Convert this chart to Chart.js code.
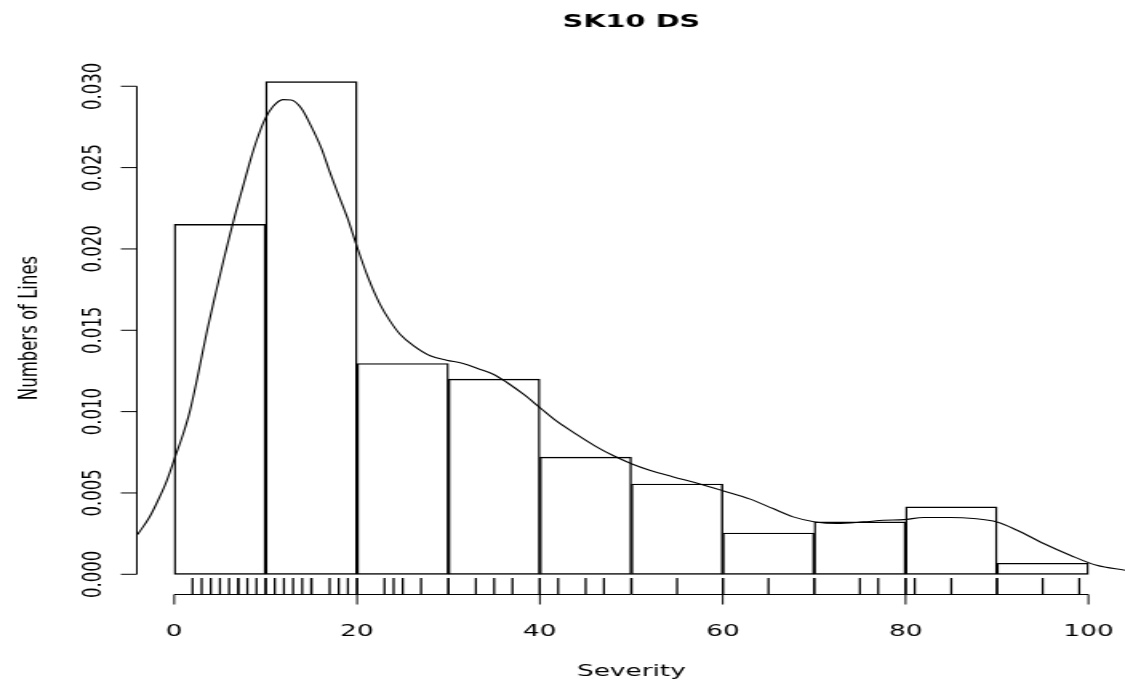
<!DOCTYPE html>
<html>
<head>
<meta charset="utf-8">
<title>SK10 DS</title>
<script src="https://cdn.jsdelivr.net/npm/chart.js@4.4.1/dist/chart.umd.min.js"></script>
<style>
    html, body { margin: 0; padding: 0; background: #fff; overflow: hidden; }
    #wrap { width: 1125px; height: 684px; position: relative; overflow: hidden; }
    /* the original plot is a stretched R device, so the canvas is drawn narrow and widened */
    #chart { position: absolute; left: 0; top: 0; transform-origin: 0 0; }
</style>
</head>
<body>
<div id="wrap"><canvas id="chart" width="703" height="684"></canvas></div>
<script>
// histogram of Severity (density per 10-wide bin)
const binStarts = [0, 10, 20, 30, 40, 50, 60, 70, 80, 90];
const binWidth = 10;
const binDensity = [0.02151, 0.03028, 0.01296, 0.01200, 0.00720, 0.00555, 0.00254, 0.00322, 0.00414, 0.00068];

// kernel density curve
const curveX = [-4, -2.7, -1.6, -0.8, 0.1, 1.0, 1.7, 2.5, 3.6, 4.5, 5.4, 6.1, 6.8, 7.6, 8.3, 9.0, 9.9,
    10.8, 11.9, 12.8, 13.9, 15.0, 16.1, 17.0, 17.9, 18.9, 20.0, 21.2, 22.5, 23.6, 24.7, 26.2, 28.0,
    29.8, 31.6, 33.4, 34.9, 36.4, 38.2, 40.0, 41.8, 44, 46, 48, 50, 52, 54.5, 57.5, 60.1, 63.0, 65.5,
    67.7, 70.1, 72.5, 75.4, 77.6, 79.8, 82.0, 84.9, 87.4, 90.0, 92.2, 95.1, 98.0, 100.9, 104];
const curveY = [0.00245, 0.00352, 0.00475, 0.00578, 0.00722, 0.00867, 0.01000, 0.01200, 0.01500, 0.01720,
    0.01932, 0.02090, 0.02240, 0.02400, 0.02540, 0.02665, 0.02795, 0.02875, 0.02918, 0.02916, 0.02865,
    0.02752, 0.02618, 0.02475, 0.02342, 0.02198, 0.02013, 0.01825, 0.01661, 0.01558, 0.01476, 0.01404,
    0.01343, 0.01316, 0.01296, 0.01261, 0.01230, 0.01179, 0.01107, 0.01025, 0.00943, 0.00860, 0.00790,
    0.00730, 0.00680, 0.00640, 0.00600, 0.00555, 0.00512, 0.00462, 0.00404, 0.00353, 0.00322, 0.00312,
    0.00322, 0.00332, 0.00336, 0.00349, 0.00349, 0.00343, 0.00322, 0.00271, 0.00189, 0.00117, 0.00055, 0.00025];

// rug of observed severities (repeats show as darker ticks)
const rugValues = [2, 3, 4, 5, 6, 7, 7, 8, 9, 10, 10, 11, 12, 13, 14, 15, 15, 17, 18, 19, 20, 20,
    23, 24, 25, 27, 30, 30, 33, 35, 37, 40, 40, 42, 45, 47, 50, 50, 55, 60, 60, 65, 70, 70,
    75, 77, 80, 80, 81, 85, 90, 90, 95, 99];

const xTicks = [0, 20, 40, 60, 80, 100];
const yTicks = [0, 0.005, 0.010, 0.015, 0.020, 0.025, 0.030];
const mainTitle = 'SK10 DS';
const xTitle = 'Severity';
const yTitle = 'Numbers of Lines';

const stretch = 1125 / 703;
const canvas = document.getElementById('chart');
canvas.style.transform = 'scaleX(' + stretch + ')';

// R style limits: data range plus 4% on each side
const xMin = binStarts[0], xMax = binStarts[binStarts.length - 1] + binWidth;
const yTop = Math.max(...binDensity);
const xPad = 0.04 * (xMax - xMin), yPad = 0.04 * yTop;
const rugY = -yPad + 0.015 * (yTop + 2 * yPad);

const histData = binStarts.map((b, i) => ({ x: b + binWidth / 2, y: binDensity[i] }));
const curveData = curveX.map((x, i) => ({ x: x, y: curveY[i] }));
const rugData = rugValues.map(v => ({ x: v, y: rugY }));

const tickFont = '16.5px "DejaVu Sans"';

// axes drawn the way R does: lines only between first and last tick
const rAxes = {
    id: 'rAxes',
    afterDraw(chart) {
        const { ctx, chartArea: a, scales: { x, y } } = chart;
        ctx.save();
        ctx.strokeStyle = '#000';
        ctx.fillStyle = '#000';
        ctx.lineWidth = 1;

        const xa = a.bottom + 0.5;
        const ya = a.left - 0.5;
        ctx.beginPath();
        ctx.moveTo(x.getPixelForValue(xTicks[0]), xa);
        ctx.lineTo(x.getPixelForValue(xTicks[xTicks.length - 1]), xa);
        xTicks.forEach(v => {
            const px = x.getPixelForValue(v);
            ctx.moveTo(px, xa);
            ctx.lineTo(px, xa + 10);
        });
        ctx.moveTo(ya, y.getPixelForValue(yTicks[0]));
        ctx.lineTo(ya, y.getPixelForValue(yTicks[yTicks.length - 1]));
        yTicks.forEach(v => {
            const py = y.getPixelForValue(v);
            ctx.moveTo(ya, py);
            ctx.lineTo(ya - 10, py);
        });
        ctx.stroke();

        ctx.font = tickFont;
        ctx.textAlign = 'center';
        ctx.textBaseline = 'alphabetic';
        xTicks.forEach(v => ctx.fillText(String(v), x.getPixelForValue(v), a.bottom + 41.5));
        yTicks.forEach(v => {
            ctx.save();
            ctx.translate(a.left - 23.5, y.getPixelForValue(v));
            ctx.rotate(-Math.PI / 2);
            ctx.fillText(v.toFixed(3), 0, 0);
            ctx.restore();
        });

        // titles
        const cx = (a.left + a.right) / 2;
        ctx.fillText(xTitle, cx, a.bottom + 81.5);
        ctx.save();
        ctx.translate(a.left - 63.5, (a.top + a.bottom) / 2);
        ctx.rotate(-Math.PI / 2);
        ctx.fillText(yTitle, 0, 0);
        ctx.restore();

        ctx.font = 'bold 18px "DejaVu Sans"';
        ctx.fillText(mainTitle, cx, 27);
        ctx.restore();
    }
};

new Chart(canvas, {
    type: 'line',
    data: {
        datasets: [
            {
                type: 'line',
                data: curveData,
                borderColor: '#000',
                borderWidth: 1.1,
                pointRadius: 0,
                fill: false,
                cubicInterpolationMode: 'monotone'
            },
            {
                type: 'scatter',
                data: rugData,
                showLine: false,
                pointStyle: 'line',
                pointRotation: 90,
                pointRadius: 8,
                pointBorderWidth: 1.3,
                pointBorderColor: '#000',
                pointBackgroundColor: '#000'
            },
            {
                type: 'bar',
                data: histData,
                backgroundColor: 'rgba(0,0,0,0)',
                borderColor: '#000',
                borderWidth: 0.75,
                borderSkipped: false,
                barPercentage: 1,
                categoryPercentage: 1
            }
        ]
    },
    options: {
        responsive: false,
        animation: false,
        events: [],
        layout: { autoPadding: false, padding: { left: 86, right: 0, top: 62, bottom: 90 } },
        plugins: { legend: { display: false }, tooltip: { enabled: false } },
        scales: {
            x: {
                type: 'linear', display: false, offset: false, min: xMin - xPad, max: xMax + xPad,
                // only the labelled ticks, so bar width comes from the bin spacing
                afterBuildTicks: s => { s.ticks = xTicks.map(v => ({ value: v })); }
            },
            y: {
                type: 'linear', display: false, min: -yPad, max: yTop + yPad,
                afterBuildTicks: s => { s.ticks = yTicks.map(v => ({ value: v })); }
            }
        }
    },
    plugins: [rAxes]
});
</script>
</body>
</html>
